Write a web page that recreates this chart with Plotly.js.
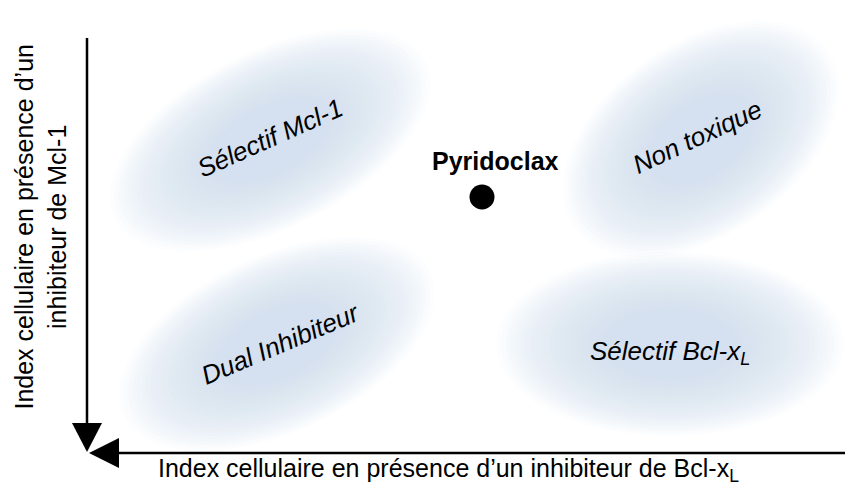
<!DOCTYPE html>
<html>
<head>
<meta charset="utf-8">
<script src="https://cdn.plot.ly/plotly-3.0.1.min.js"></script>
<style>html,body{margin:0;padding:0;background:#fff;}#chart{width:845px;height:493px;}</style>
</head>
<body>
<div id="chart"></div>
<script>
// ---- data ----
var regionNames = ['Sélectif Mcl-1', 'Non toxique', 'Dual Inhibiteur', 'Sélectif Bcl-x<sub>L</sub>'];
var regionX = [1.83, 6.14, 1.90, 5.83];
var regionY = [3.13, 3.14, 1.09, 1.09];
var compoundNames = ['Pyridoclax'];
var compoundX = [3.95];
var compoundY = [2.56];
var xTitle = 'Index cellulaire en présence d\u2019un inhibiteur de Bcl-x<sub>L</sub>';
var yTitle = 'Index cellulaire en présence d\u2019un<br>inhibiteur de Mcl-1';

// ---- style ----
var FONT = 'Liberation Sans, Arial, Helvetica, sans-serif';
var XMIN = -0.20, XMAX = 7.58, YMIN = -0.20, YMAX = 4.53;   // 100 px per unit on both axes
var AXIS_TOP = 4.15;                     // top end of the vertical arrow
var HEAD_LEN = 0.30, HEAD_HALF = 0.15;   // arrow head size (units)
var regionShape = [                      // semi-axes (units) and tilt (deg)
  {a: 1.74, b: 0.88, ang: 27},
  {a: 1.54, b: 0.96, ang: 35},
  {a: 1.69, b: 0.88, ang: 25},
  {a: 1.74, b: 0.92, ang: 0}
];
var labelAngle = [-24, -25, -23, 0];
var labelShift = [[0, 2], [-4, 2], [3, 0], [0, -8]];
var NLAYER = 24;

function ellipsePath(cx, cy, a, b, angDeg) {
  var t = angDeg * Math.PI / 180, n = 72, d = '';
  for (var i = 0; i < n; i++) {
    var p = 2 * Math.PI * i / n;
    var x = cx + a * Math.cos(t) * Math.cos(p) - b * Math.sin(t) * Math.sin(p);
    var y = cy + a * Math.sin(t) * Math.cos(p) + b * Math.cos(t) * Math.sin(p);
    d += (i === 0 ? 'M' : 'L') + x.toFixed(4) + ',' + y.toFixed(4);
  }
  return d + 'Z';
}

var shapes = [];
regionNames.forEach(function (nm, k) {
  var s = regionShape[k];
  for (var i = 0; i < NLAYER; i++) {
    var f = 1 - 0.64 * i / (NLAYER - 1);
    shapes.push({
      type: 'path', xref: 'x', yref: 'y', layer: 'below',
      path: ellipsePath(regionX[k], regionY[k], s.a * f, s.b * f, s.ang),
      fillcolor: 'rgba(217,228,246,0.065)', line: {width: 0}
    });
  }
});
// axes drawn as arrows pointing to the origin (0,0)
var ox = 0, oy = 0;
shapes.push({type: 'line', xref: 'x', yref: 'y', x0: ox, y0: oy + HEAD_LEN - 0.02, x1: ox, y1: AXIS_TOP,
  line: {color: '#000', width: 2.5}});
shapes.push({type: 'line', xref: 'x', yref: 'y', x0: ox + HEAD_LEN - 0.02, y0: oy, x1: XMAX, y1: oy,
  line: {color: '#000', width: 2.5}});
shapes.push({type: 'path', xref: 'x', yref: 'y',
  path: 'M' + (ox - HEAD_HALF) + ',' + (oy + HEAD_LEN) + 'L' + (ox + HEAD_HALF) + ',' + (oy + HEAD_LEN) + 'L' + ox + ',' + (oy + 0.01) + 'Z',
  fillcolor: '#000', line: {width: 0}});
shapes.push({type: 'path', xref: 'x', yref: 'y',
  path: 'M' + (ox + 0.02 + HEAD_LEN) + ',' + (oy + HEAD_HALF) + 'L' + (ox + 0.02 + HEAD_LEN) + ',' + (oy - HEAD_HALF) + 'L' + (ox + 0.02) + ',' + oy + 'Z',
  fillcolor: '#000', line: {width: 0}});

var annotations = [];
regionNames.forEach(function (nm, k) {
  annotations.push({
    x: regionX[k], y: regionY[k], xref: 'x', yref: 'y',
    xshift: labelShift[k][0], yshift: labelShift[k][1],
    text: '<i>' + nm + '</i>', showarrow: false, textangle: labelAngle[k],
    font: {family: FONT, size: 26, color: '#000'}
  });
});
compoundNames.forEach(function (nm, k) {
  annotations.push({
    x: compoundX[k], y: compoundY[k], xref: 'x', yref: 'y',
    text: '<b>' + nm + '</b>', showarrow: false, xshift: 13, yshift: 36,
    font: {family: FONT, size: 25, color: '#000'}
  });
});
// axis titles
annotations.push({
  x: 0.491, y: 0, xref: 'paper', yref: 'paper', yanchor: 'middle', yshift: 3,
  text: xTitle, showarrow: false, font: {family: FONT, size: 25, color: '#000'}
});
annotations.push({
  x: 0, y: 0.521, xref: 'paper', yref: 'paper', xanchor: 'center', xshift: -26,
  text: yTitle, showarrow: false, textangle: -90,
  font: {family: FONT, size: 25, color: '#000'}
});

var traces = [{
  type: 'scatter', mode: 'markers', x: compoundX, y: compoundY,
  marker: {size: 25, color: '#000'}, hoverinfo: 'skip', cliponaxis: false
}];

var layout = {
  width: 845, height: 493,
  margin: {l: 67, r: 0, t: 0, b: 20},
  paper_bgcolor: '#fff', plot_bgcolor: 'rgba(0,0,0,0)',
  showlegend: false,
  xaxis: {range: [XMIN, XMAX], showgrid: false, zeroline: false, showline: false, showticklabels: false, ticks: '', fixedrange: true},
  yaxis: {range: [YMIN, YMAX], showgrid: false, zeroline: false, showline: false, showticklabels: false, ticks: '', fixedrange: true},
  shapes: shapes,
  annotations: annotations
};

Plotly.newPlot('chart', traces, layout, {displayModeBar: false, staticPlot: true});
</script>
</body>
</html>
